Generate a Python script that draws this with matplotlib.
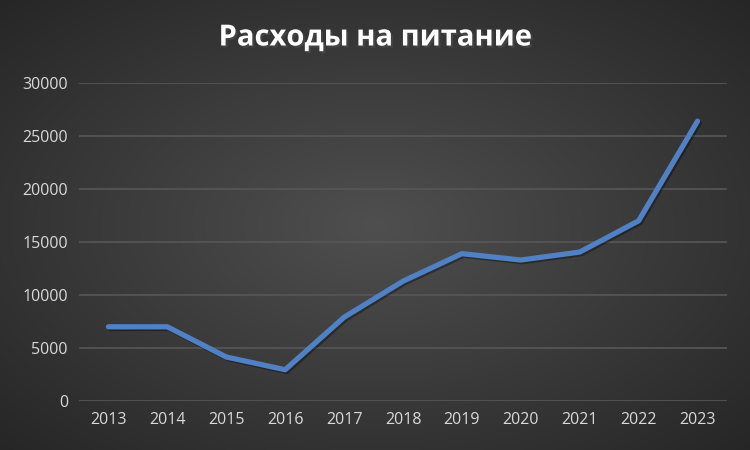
import numpy as np
import matplotlib.pyplot as plt
import matplotlib.patheffects as pe

# данные графика
years = ['2013', '2014', '2015', '2016', '2017', '2018', '2019', '2020', '2021', '2022', '2023']
expenses = [7000, 7000, 4150, 2950, 7900, 11300, 13900, 13300, 14050, 17000, 26400]
y_ticks = [0, 5000, 10000, 15000, 20000, 25000, 30000]

fig = plt.figure(figsize=(7.5, 4.5), dpi=100)

# радиальный градиентный фон
bg = fig.add_axes([0, 0, 1, 1])
gx, gy = np.meshgrid(np.linspace(-1, 1, 750), np.linspace(-1, 1, 450))
r = np.sqrt(gx ** 2 + gy ** 2) / np.sqrt(2)
shade = 0.31 - 0.16 * r
bg.imshow(np.dstack([shade, shade, shade]), aspect='auto', extent=[0, 1, 0, 1])
bg.axis('off')

ax = fig.add_axes([79 / 750, 1 - 401 / 450, (727 - 79) / 750, (401 - 83) / 450])
ax.patch.set_alpha(0)

x = np.arange(len(years))
ax.plot(x, expenses, color='#4f81c4', lw=3.8, solid_capstyle='round', solid_joinstyle='round',
        path_effects=[pe.SimpleLineShadow(offset=(1.2, -1.2), shadow_color='black', alpha=0.35),
                      pe.Normal()], zorder=3)

ax.set_xlim(-0.5, len(years) - 0.5)
ax.set_ylim(0, 30000)
ax.set_xticks(x)
ax.set_xticklabels(years)
ax.set_yticks(y_ticks)
ax.grid(axis='y', color='#575757', lw=1.2)
ax.set_axisbelow(True)
for s in ax.spines.values():
    s.set_visible(False)
ax.tick_params(length=0, colors='#d9d9d9', labelsize=11.5, pad=8)
for lbl in ax.get_xticklabels() + ax.get_yticklabels():
    lbl.set_family('Open Sans')

fig.text(0.5, 1 - 38 / 450, 'Расходы на питание', ha='center', va='center', color='white',
         fontsize=21, fontweight='bold', family='Open Sans',
         path_effects=[pe.withSimplePatchShadow(offset=(1.5, -1.5), alpha=0.6)])

fig.savefig('out.png', dpi=100)
